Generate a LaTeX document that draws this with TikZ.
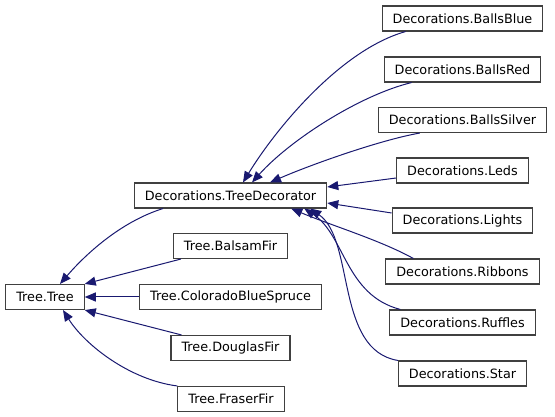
\documentclass[tikz,border=0pt]{standalone}
\usepackage{fontspec}
\setsansfont{DejaVu Sans}
\usetikzlibrary{arrows.meta}
\definecolor{dxblue}{HTML}{191970}
\definecolor{dxgrey}{HTML}{404040}

\begin{document}
\begin{tikzpicture}[x=1pt,y=-1pt,font=\sffamily\fontsize{12.8}{15}\selectfont,
  cls/.style={draw=dxgrey,line width=1.1pt,fill=white,minimum height=25pt,inner xsep=10.5pt,inner ysep=0pt},
  inh/.style={dxblue,line width=1pt,{Triangle[length=11pt,width=9pt]}-}]
  \useasboundingbox (0,0) rectangle (555,417);
  % tree classes
  \node[cls] (tree) at (45,297) {Tree.Tree};
  \node[cls] (deco) at (230.5,195.5) {Decorations.TreeDecorator};
  \node[cls] (balsam) at (230.5,246) {Tree.BalsamFir};
  \node[cls] (colorado) at (230.5,297) {Tree.ColoradoBlueSpruce};
  \node[cls] (douglas) at (230.5,348) {Tree.DouglasFir};
  \node[cls] (fraser) at (231,399) {Tree.FraserFir};
  % decorator subclasses (right column)
  \foreach \nm/\y in {BallsBlue/18.5,BallsRed/69.5,BallsSilver/120,Leds/170.5,Lights/220.5,Ribbons/271.5,Ruffles/322.5,Star/373.5}{
     \node[cls] (\nm) at (462.5,\y) {Decorations.\nm};
  }
  % inheritance into Tree.Tree
  \draw[inh] ([xshift=15]tree.north) .. controls (85,255) and (120,222) .. ([xshift=-67.5]deco.south);
  \draw[inh] (tree.north east) -- ([xshift=8]balsam.south west);
  \draw[inh] (tree.east) -- (colorado.west);
  \draw[inh] (tree.south east) -- ([xshift=11]douglas.north west);
  \draw[inh] ([xshift=18]tree.south) .. controls (85,345) and (130,380) .. (fraser.north west);
  % inheritance into the decorator
  \draw[inh] ([xshift=12.5]deco.north) .. controls (275,130) and (340,50) .. ([xshift=24]BallsBlue.south west);
  \draw[inh] ([xshift=21.5]deco.north) .. controls (290,140) and (360,95) .. ([xshift=28]BallsRed.south west);
  \draw[inh] ([xshift=39.5]deco.north) .. controls (310,165) and (380,140) .. ([xshift=42]BallsSilver.south west);
  \draw[inh] ([yshift=8.5]deco.east) -- ([yshift=-7.5]Leds.west);
  \draw[inh] ([yshift=-7.5]deco.east) -- ([yshift=7.5]Lights.west);
  \draw[inh] ([xshift=-36]deco.south east) .. controls (330,225) and (380,240) .. ([xshift=28]Ribbons.north west);
  \draw[inh] ([xshift=-23]deco.south east) .. controls (345,235) and (345,295) .. ([xshift=11]Ruffles.north west);
  \draw[inh] ([xshift=-17]deco.south east) .. controls (355,240) and (335,350) .. (Star.north west);
\end{tikzpicture}
\end{document}
